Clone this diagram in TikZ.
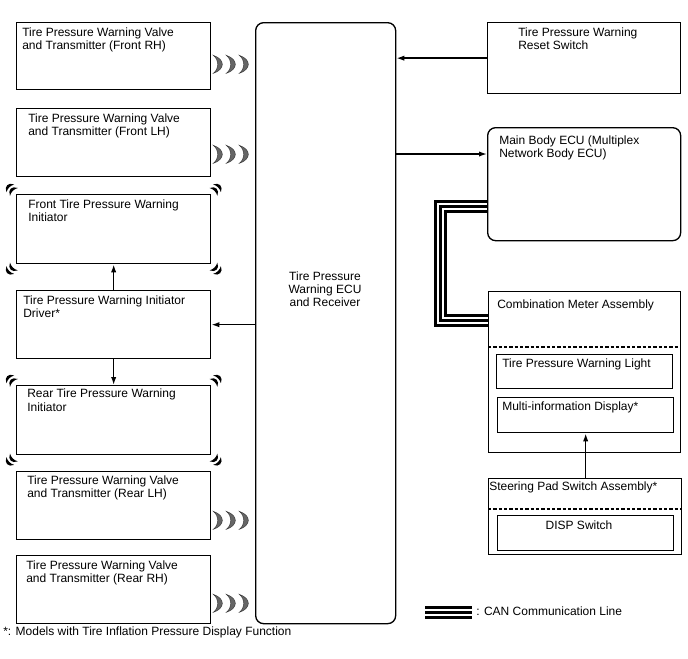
\documentclass[tikz,border=0pt]{standalone}
\usepackage{fontspec}
\setmainfont{Liberation Sans}
\usetikzlibrary{arrows.meta, positioning, calc}

% radio signal marks
\tikzset{
  wave/.pic={
    \foreach \i in {0,13,26}
      \fill[black!60, draw=black!80, line width=0.3pt] (\i,-9) .. controls (\i+12,-5) and (\i+12,5) .. (\i,9) .. controls (\i+6,4) and (\i+6,-4) .. cycle;
  },
  sig/.pic={
    \foreach \d in {3,8}
      \fill (\d,-5.5) .. controls (\d+6,-3) and (\d+6,3) .. (\d,5.5) .. controls (\d+2,2) and (\d+2,-2) .. cycle;
  }
}

\begin{document}
\begin{tikzpicture}[
  x=0.75pt, y=-0.75pt,
  font=\fontsize{9}{9.8}\selectfont,
  box/.style={draw, line width=1pt, anchor=north west, inner sep=0pt},
  rbox/.style={box, rounded corners=6pt},
  sz/.style 2 args={minimum width=#1*0.75pt, minimum height=#2*0.75pt},
  txt/.style={inner sep=0pt, align=left, anchor=north west},
  arr/.style={-{Latex[length=6pt, width=4pt]}, line width=1.1pt},
  sep/.style={dash pattern=on 2.5pt off 1.5pt, line width=0.9pt},
  can/.style={line width=2.25pt, preaction={draw, line width=9.75pt}, preaction={draw=white, line width=5.25pt}}
]
\useasboundingbox (0,0) rectangle (688,658);

% --- Left column: transmitters, initiators, driver ---
\node[box, sz={194}{67}] (frh) at (16,22) {};
\node[box, sz={194}{68}] (flh) at (16,108) {};
\node[box, sz={194}{69}] (fini) at (16,194) {};
\node[box, sz={194}{68}] (drv) at (16,290) {};
\node[box, sz={194}{69}] (rini) at (16,385) {};
\node[box, sz={194}{68}] (rlh) at (16,471) {};
\node[box, sz={194}{68}] (rrh) at (16,555) {};

\node[txt, below right=4pt and 4.5pt of frh.north west] (frhtxt) {Tire Pressure Warning Valve\\and Transmitter (Front RH)};
\node[txt, below right=4pt and 9pt of flh.north west] (flhtxt) {Tire Pressure Warning Valve\\and Transmitter (Front LH)};
\node[txt, below right=4pt and 9pt of fini.north west] (finitxt) {Front Tire Pressure Warning\\Initiator};
\node[txt, below right=4pt and 5.25pt of drv.north west] (drvtxt) {Tire Pressure Warning Initiator\\Driver*};
\node[txt, below right=3pt and 8.25pt of rini.north west] (rinitxt) {Rear Tire Pressure Warning\\Initiator};
\node[txt, below right=3.5pt and 8.25pt of rlh.north west] (rlhtxt) {Tire Pressure Warning Valve\\and Transmitter (Rear LH)};
\node[txt, below right=4pt and 7.5pt of rrh.north west] (rrhtxt) {Tire Pressure Warning Valve\\and Transmitter (Rear RH)};

% --- Centre: ECU ---
\node[rbox, sz={140}{601}] (ecu) at (255,22) {};
\node[align=center, inner sep=0pt] (ecutxt) at (325,289) {Tire Pressure\\Warning ECU\\and Receiver};

% --- Right column ---
\node[box, sz={193}{71}] (reset) at (487,22) {};
\node[rbox, sz={193}{113}] (body) at (487,127) {};
\node[box, sz={192}{161}] (meter) at (488,291) {};
\node[box, sz={176}{34}] (light) at (496,354) {};
\node[box, sz={176}{35}] (mid) at (497,397) {};
\node[box, sz={193}{76}] (steer) at (488,478) {};
\node[box, sz={176}{35}] (disp) at (497,515) {};

\node[txt, below right=4pt and 23.25pt of reset.north west] (resettxt) {Tire Pressure Warning\\Reset Switch};
\node[txt, below right=6.2pt and 9pt of body.north west] (bodytxt) {Main Body ECU (Multiplex\\Network Body ECU)};
\node[txt, below right=6.2pt and 6.75pt of meter.north west] (metertxt) {Combination Meter Assembly};
\node[txt, below right=3.2pt and 4.5pt of light.north west] (lighttxt) {Tire Pressure Warning Light};
\node[txt, below right=3.2pt and 3.75pt of mid.north west] (midtxt) {Multi-information Display*};
\node[txt, below right=2.5pt and 0.75pt of steer.north west] (steertxt) {Steering Pad Switch Assembly*};
\node[inner sep=0pt, anchor=north, below=4pt of disp.north, xshift=-5pt] (disptxt) {DISP Switch};

\draw[sep] ($(meter.north west)+(0,56)$) -- ($(meter.north east)+(0,56)$);
\draw[sep] ($(steer.north west)+(0,31)$) -- ($(steer.north east)+(0,31)$);

% --- Signals ---
\foreach \b/\d in {frh/26, flh/23, rlh/20, rrh/21}
  \pic at ($(\b.south east)+(2,-\d)$) {wave};
\foreach \b in {fini, rini} {
  \pic[rotate=135] at (\b.north west) {sig};
  \pic[rotate=45] at (\b.north east) {sig};
  \pic[rotate=-135] at (\b.south west) {sig};
  \pic[rotate=-45] at (\b.south east) {sig};
}

% --- Connections ---
\coordinate (bodyin) at ($(body.north west)+(0,27)$);
\draw[arr] (reset.west) -- (reset.west -| ecu.east);
\draw[arr] (bodyin -| ecu.east) -- (bodyin);
\draw[arr] (drv.east -| ecu.west) -- (drv.east);
\draw[arr] (drv.north) -- (fini.south);
\draw[arr] (drv.south) -- (rini.north);
\draw[arr] (steer.north -| mid.south) -- (mid.south);

% CAN line
\coordinate (canA) at ($(body.north west)+(0,79.5)$);
\coordinate (canB) at ($(meter.north west)+(0,29.5)$);
\draw[can] (canA) -- ++(-46.5,0) |- (canB);

% --- Legend and note ---
\coordinate (legA) at (425,612.5);
\coordinate (legB) at (472,612.5);
\draw[can] (legA) -- (legB);
\node[inner sep=0pt, anchor=west] (legtxt) at (476,611) {: CAN Communication Line};
\node[inner sep=0pt, anchor=west] (note) at (3,632) {*: Models with Tire Inflation Pressure Display Function};

\end{tikzpicture}
\end{document}
